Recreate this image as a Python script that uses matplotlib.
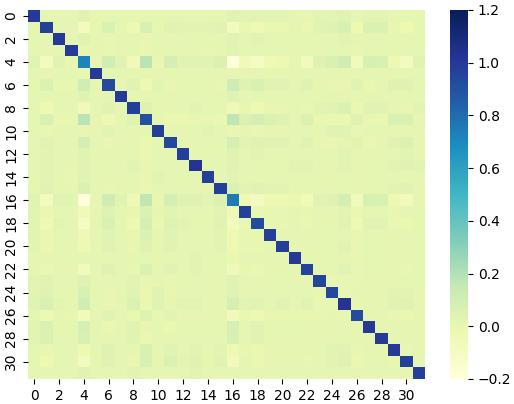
import numpy as np
import matplotlib
matplotlib.use("Agg")
import matplotlib.pyplot as plt

# Upper triangle of the symmetric matrix (row i: columns i..31)
r00 = [1.0,.015,.015,.015,.035,.015,.015,.015,.015,.015,.015,.015,.015,.015,.015,.015,.035,.025,.025,.025,.025,.015,.015,.025,.025,.035,.015,.025,.025,.015,.015,.015]
r01 = [.97,.015,.01,-.07,.01,.06,.015,-.02,.07,.005,.035,.025,.025,.025,.035,-.07,-.01,-.04,-.01,-.01,.015,-.01,.035,.045,.07,-.02,.06,.06,.0,-.02,.015]
r02 = [1.0,.015,.035,.015,.005,.015,.015,.0,.015,.01,.015,.015,.015,.015,.035,.015,.025,.015,.015,.015,.015,.015,.015,.025,.01,.015,.015,.015,.01,.015]
r03 = [.99,.0,.015,.005,.015,.015,.005,.015,.015,.015,.01,.005,.01,.025,.015,.015,.015,.015,.015,.01,.015,.015,.015,.005,.015,.015,.015,.015,.015]
r04 = [.72,.0,.11,.04,-.05,.18,.0,.09,.04,.04,.04,.06,-.2,-.05,-.1,-.04,-.03,.015,-.06,.045,.07,.11,-.06,.08,.07,-.03,-.08,.035]
r05 = [1.0,.015,.015,.015,.01,.01,.015,.015,.015,.015,.015,.01,.01,.01,.015,.015,.015,.015,.015,.015,.015,.01,.015,.015,.015,.015,.015]
r06 = [.94,.015,.035,-.03,.025,.0,.015,.015,.015,.0,.12,.045,.07,.035,.035,.015,.045,.01,.0,.0,.035,-.01,.01,.045,.045,.015]
r07 = [1.0,.015,.015,.015,.01,.015,.015,.01,.015,.035,.015,.015,.015,.015,.015,.015,.015,.015,.01,.015,.015,.015,.015,.015,.015]
r08 = [.98,.045,.015,.01,.015,.025,.015,.015,-.04,.005,-.02,.0,.0,.015,.005,.025,.035,.06,-.01,.035,.035,.01,.0,.025]
r09 = [.9,.015,-.01,-.01,.0,.0,-.01,.17,.06,.09,.06,.045,.015,.06,.0,-.01,-.01,.045,.0,-.01,.07,.07,.01]
r10 = [.98,.015,.015,.015,.025,.015,.0,.01,.0,.01,.015,.015,.015,.015,.035,.035,.005,.015,.015,.01,.01,.015]
r11 = [.94,.015,.015,.015,.015,.09,.025,.045,.035,.035,.015,.035,.0,.0,.01,.025,-.01,.01,.035,.06,.01]
r12 = [.98,.015,.015,.015,.045,.015,.025,.015,.015,.015,.015,.015,.015,.025,.01,.015,.015,.015,.025,.015]
r13 = [1.02,.015,.015,.045,.015,.015,.015,.015,.025,.025,.015,.015,.025,.01,.015,.015,.025,.045,.025]
r14 = [.97,.015,.025,.015,.015,.015,.015,.015,.015,.01,.01,.015,.01,.015,.015,.015,.015,.015]
r15 = [.98,.06,.025,.035,.025,.025,.015,.015,.015,.015,.015,.01,.015,.015,.025,.035,.01]
r16 = [.75,-.04,-.08,-.03,-.02,-.01,-.05,.035,.045,.09,-.06,.08,.07,-.03,-.06,.015]
r17 = [.97,-.01,.005,.005,.01,.005,.01,.01,.025,-.01,.015,.015,.005,.01,.015]
r18 = [.93,.005,.005,.01,-.01,.01,.015,.035,-.02,.035,.035,-.01,-.01,.015]
r19 = [.98,.015,.015,.01,.015,.015,.015,.0,.015,.015,.01,.01,.015]
r20 = [.98,.015,.01,.015,.015,.035,.0,.015,.015,.01,.01,.015]
r21 = [1.0,.015,.01,.015,.01,.005,.015,.015,.01,.01,.015]
r22 = [.96,.015,.015,.035,.0,.015,.015,.01,.005,.015]
r23 = [.95,.005,.005,.005,.01,.01,.015,.015,.015]
r24 = [.94,.005,.01,.01,.01,.025,.025,.01]
r25 = [1.02,.005,.015,.015,.035,.045,.01]
r26 = [.93,.01,.01,.0,-.01,.01]
r27 = [1.0,.01,.015,.015,.01]
r28 = [1.0,.015,.015,.01]
r29 = [1.0,.005,.01]
r30 = [.97,.01]
r31 = [.98]
upper_rows = [r00,r01,r02,r03,r04,r05,r06,r07,r08,r09,r10,r11,r12,r13,r14,r15,
              r16,r17,r18,r19,r20,r21,r22,r23,r24,r25,r26,r27,r28,r29,r30,r31]
tick_values = list(range(0, 32, 2))
cbar_ticks = [-0.2, 0.0, 0.2, 0.4, 0.6, 0.8, 1.0, 1.2]

n = len(upper_rows)
m = np.zeros((n, n))
for i, row in enumerate(upper_rows):
    m[i, i:] = row
    m[i:, i] = row

W, H = 514, 404
fig = plt.figure(figsize=(W/100, H/100), dpi=100)
ax = fig.add_axes([28/W, 1-379/H, (425-28)/W, (379-10)/H])
cax = fig.add_axes([450/W, 1-379/H, 18/W, (379-10)/H])

mesh = ax.pcolormesh(np.arange(n+1), np.arange(n+1), m, cmap="YlGnBu",
                     vmin=-0.2, vmax=1.2, linewidth=0, rasterized=True)
ax.set_xlim(0, n)
ax.set_ylim(n, 0)
ax.set_xticks(np.array(tick_values)+0.5, [str(t) for t in tick_values])
ax.set_yticks(np.array(tick_values)+0.5, [str(t) for t in tick_values], rotation=90, va="center")
for s in ax.spines.values():
    s.set_visible(False)

cb = fig.colorbar(mesh, cax=cax, ticks=cbar_ticks)
cb.outline.set_visible(False)

fig.savefig("out.png", dpi=100)
